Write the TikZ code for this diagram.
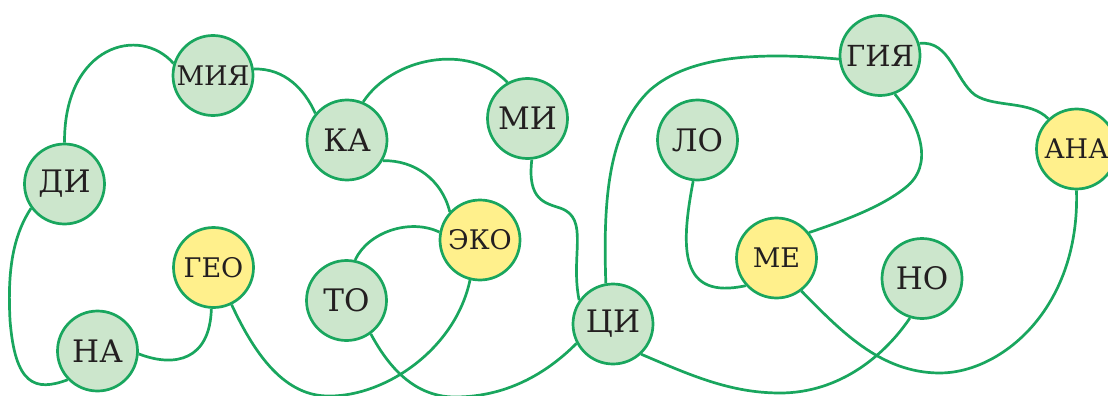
\documentclass[tikz,border=0pt]{standalone}
\usepackage{fontspec}
\setmainfont{DejaVu Serif}
\definecolor{edgecol}{HTML}{19A65E}
\definecolor{gfill}{HTML}{CCE6CC}
\definecolor{yfill}{HTML}{FFF08C}
\definecolor{txt}{HTML}{231F20}
\begin{document}
\begin{tikzpicture}[x=1pt,y=-1pt,
  bub/.style={circle, draw=edgecol, line width=2.7pt, minimum size=80pt, inner sep=0pt, text=txt, font=\fontsize{31}{31}\selectfont},
  gbub/.style={bub, fill=gfill},
  ybub/.style={bub, fill=yfill},
  smalltxt/.style={font=\fontsize{27}{27}\selectfont},
  link/.style={draw=edgecol, line width=2.7pt}]
\path[use as bounding box, clip] (0,0) rectangle (1108,396);
% nodes
\node[gbub] (nDI) at (64.5,184) {ДИ};
\node[gbub,smalltxt] (nMIYA) at (213,75.5) {МИЯ};
\node[gbub] (nKA) at (347,140) {КА};
\node[gbub] (nMI) at (527.5,118.5) {МИ};
\node[ybub,smalltxt] (nGEO) at (213.5,267.5) {ГЕО};
\node[gbub] (nTO) at (346.5,300.5) {ТО};
\node[ybub,smalltxt] (nEKO) at (480,240) {ЭКО};
\node[gbub] (nNA) at (97.5,351) {НА};
\node[gbub] (nCI) at (613,324) {ЦИ};
\node[gbub] (nLO) at (697.5,140) {ЛО};
\node[ybub,smalltxt] (nME) at (776.5,258) {МЕ};
\node[gbub,font=\fontsize{29}{29}\selectfont] (nGIA) at (880,55.5) {ГИЯ};
\node[gbub] (nNO) at (922,278.5) {НО};
\node[ybub,smalltxt] (nANA) at (1076.5,149) {АНА};
% connectors
\draw[link] (nDI.90) .. controls (64,45) and (140,25) .. (nMIYA.163);
\draw[link] (nMIYA.9) .. controls (285,68) and (305,90) .. (nKA.140);
\draw[link] (nKA.67) .. controls (392,58) and (468,42) .. (nMI.119);
\draw[link] (nKA.-30) .. controls (415,160) and (442,180) .. (nEKO.137);
\draw[link] (nMI.-84) .. controls (527,200) and (545,203) .. (560,208) .. controls (590,218) and (570,255) .. (nCI.145);
\draw[link] (nTO.78) .. controls (368,232) and (410,218) .. (nEKO.169);
\draw[link] (nGEO.-64) .. controls (255,355) and (285,397) .. (330,396) .. controls (385,396) and (455,350) .. (nEKO.-104);
\draw[link] (nTO.-54) .. controls (385,360) and (410,397) .. (455,397) .. controls (510,397) and (550,370) .. (nCI.208);
\draw[link] (nDI.216) .. controls (10,240) and (8,280) .. (10,320) .. controls (15,385) and (35,392) .. (nNA.224);
\draw[link] (nNA.-4) .. controls (175,368) and (210,360) .. (nGEO.-93);
\draw[link] (nCI.100) .. controls (603,200) and (608,130) .. (650,90) .. controls (690,55) and (760,52) .. (nGIA.185);
\draw[link] (nGIA.-69) .. controls (920,125) and (935,165) .. (905,188) .. controls (880,208) and (840,222) .. (nME.38);
\draw[link] (nGIA.17) .. controls (950,40) and (955,80) .. (975,95) .. controls (995,108) and (1030,100) .. (nANA.133);
\draw[link] (nLO.-96) .. controls (680,250) and (680,300) .. (nME.222);
\draw[link] (nME.-53) .. controls (840,330) and (880,373) .. (940,373) .. controls (1000,373) and (1080,310) .. (nANA.-90);
\draw[link] (nCI.-47) .. controls (690,375) and (730,393) .. (780,393) .. controls (840,393) and (885,355) .. (nNO.-107);
\end{tikzpicture}
\end{document}
